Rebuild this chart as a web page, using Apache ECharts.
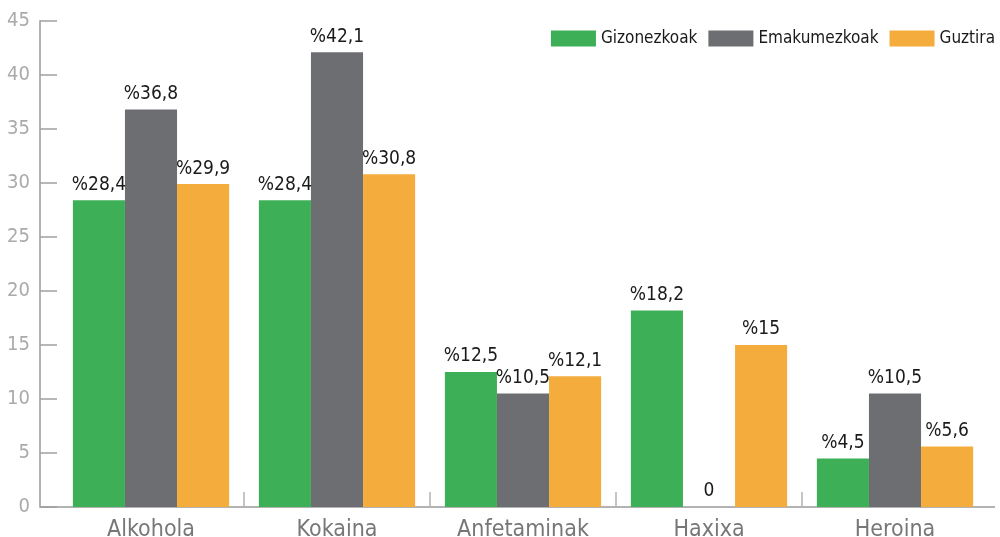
<!DOCTYPE html>
<html><head><meta charset="utf-8">
<script src="https://cdn.jsdelivr.net/npm/echarts@6/dist/echarts.min.js"></script>
<style>html,body{margin:0;padding:0;background:#fff}#c{width:1000px;height:537px}</style>
</head><body><div id="c"></div>
<script>
const categories = ['Alkohola', 'Kokaina', 'Anfetaminak', 'Haxixa', 'Heroina'];
const seriesNames = ['Gizonezkoak', 'Emakumezkoak', 'Guztira'];
const gizonezkoak = [28.4, 28.4, 12.5, 18.2, 4.5];
const emakumezkoak = [36.8, 42.1, 10.5, 0, 10.5];
const guztira = [29.9, 30.8, 12.1, 15, 5.6];
const colors = ['#3daf57', '#6d6e71', '#f4ad3d'];
const FONT = "'DejaVu Sans Condensed','DejaVu Sans',sans-serif";
const FS = 'condensed';

const chart = echarts.init(document.getElementById('c'));
const fmt = p => p.value === 0 ? '0' : '%' + String(p.value).replace('.', ',');
function mk(name, data, color) {
  return {
    name, type: 'bar', data, barGap: '0%', barCategoryGap: '16%',
    itemStyle: { color },
    label: {
      show: true, position: 'top', distance: 6, formatter: fmt,
      fontFamily: FONT, fontStyle: FS, fontSize: 19, color: '#1a1a1a'
    }
  };
}
chart.setOption({
  animation: false,
  textStyle: { fontFamily: FONT },
  legend: {
    right: 0, top: 25, itemWidth: 45, itemHeight: 16, itemGap: 11,
    icon: 'rect',
    textStyle: { fontFamily: FONT, fontStyle: FS, fontSize: 17, color: '#1a1a1a' },
    data: seriesNames
  },
  grid: { left: 58, right: 12, top: 21, bottom: 30, containLabel: false, outerBoundsMode: 'none' },
  xAxis: {
    type: 'category', data: categories,
    axisLine: { lineStyle: { color: '#b3b3b3', width: 2 } },
    axisTick: { show: true, inside: true, length: 15, lineStyle: { color: '#b3b3b3', width: 1.5 },
      interval: (i) => i > 0 },
    axisLabel: { fontFamily: FONT, fontStyle: FS, fontSize: 23, color: '#777777', margin: 12 }
  },
  yAxis: {
    type: 'value', min: 0, max: 45, interval: 5, offset: 18,
    axisLine: { show: true, lineStyle: { color: '#b3b3b3', width: 2 } },
    axisTick: { show: true, inside: true, length: 17, lineStyle: { color: '#a0a0a0', width: 1.5 } },
    axisLabel: { fontFamily: FONT, fontStyle: FS, fontSize: 20, color: '#aaaaaa', margin: 10 },
    splitLine: { show: false }
  },
  series: [
    mk(seriesNames[0], gizonezkoak, colors[0]),
    mk(seriesNames[1], emakumezkoak, colors[1]),
    mk(seriesNames[2], guztira, colors[2])
  ]
});
// extend the baseline under the offset y-axis and past the last band; hide the end tick
const pL = chart.convertToPixel({ gridIndex: 0 }, [0, 0]);
const rect = chart.getModel().getComponent('grid', 0).coordinateSystem.getRect();
const y0 = pL[1];
const xR = rect.x + rect.width;
chart.setOption({
  graphic: [
    { type: 'rect', shape: { x: xR - 3, y: y0 - 17, width: 6, height: 16 }, style: { fill: '#fff' }, silent: true, z: 100 },
    { type: 'line', shape: { x1: 40, y1: y0, x2: rect.x + 2, y2: y0 }, style: { stroke: '#b3b3b3', lineWidth: 2 }, silent: true },
    { type: 'line', shape: { x1: xR - 2, y1: y0, x2: 995, y2: y0 }, style: { stroke: '#b3b3b3', lineWidth: 2 }, silent: true, z: 101 }
  ]
});
</script></body></html>
